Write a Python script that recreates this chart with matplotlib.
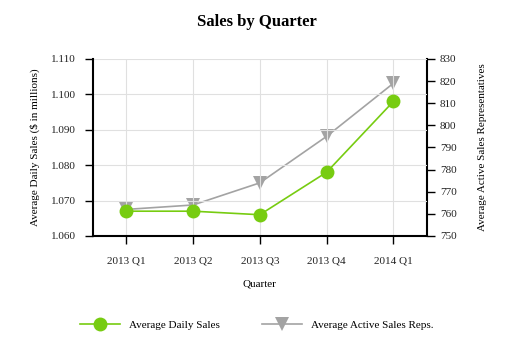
import matplotlib.pyplot as plt
from matplotlib.ticker import FormatStrFormatter

quarters = ["2013 Q1", "2013 Q2", "2013 Q3", "2013 Q4", "2014 Q1"]
daily_sales = [1.067, 1.067, 1.066, 1.078, 1.098]
sales_reps = [762, 764, 774, 795, 819]

plt.rcParams['font.family'] = ['Liberation Serif', 'DejaVu Serif']

fig = plt.figure(figsize=(5.13, 3.57), dpi=100)
ax = fig.add_axes([0.181, 0.339, 0.651, 0.496])
ax2 = ax.twinx()

x = list(range(len(quarters)))
l1, = ax.plot(x, daily_sales, color='#77cc11', lw=1.2, marker='o', ms=10,
              mew=0, label='Average Daily Sales', zorder=3)
l2, = ax2.plot(x, sales_reps, color='#a3a3a3', lw=1.2, marker='v', ms=10,
               mew=0, label='Average Active Sales Reps.', zorder=2)
ax.set_zorder(ax2.get_zorder() + 1)
ax.patch.set_visible(False)

ax.set_xlim(-0.5, 4.5)
ax.set_ylim(1.060, 1.110)
ax.set_yticks([1.060, 1.070, 1.080, 1.090, 1.100, 1.110])
ax.yaxis.set_major_formatter(FormatStrFormatter('%.3f'))
ax2.set_ylim(750, 830)
ax2.set_yticks(range(750, 831, 10))
ax.set_xticks(x)
ax.set_xticklabels(quarters)

ax.grid(True, color='#e0e0e0', lw=0.8)
ax.set_axisbelow(True)
for a in (ax, ax2):
    a.spines['top'].set_visible(False)
    a.tick_params(labelsize=8, direction='out', length=6, width=1,
                  labelcolor='#222222')
ax.tick_params(axis='x', pad=9)
ax.tick_params(axis='y', pad=6)
for s in ('left', 'bottom'):
    ax.spines[s].set_linewidth(1.5)
ax.spines['right'].set_visible(False)
ax2.spines['left'].set_visible(False)
ax2.spines['bottom'].set_visible(False)
ax2.spines['right'].set_linewidth(1.5)

ax.set_xlabel('Quarter', fontsize=8, labelpad=10)
ax.set_ylabel('Average Daily Sales ($ in millions)', fontsize=8, labelpad=8)
ax2.set_ylabel('Average Active Sales Representatives', fontsize=8, labelpad=15)
fig.suptitle('Sales by Quarter', fontsize=12, fontweight='bold', y=0.96)

fig.legend([l1, l2], [l1.get_label(), l2.get_label()], loc='center',
           bbox_to_anchor=(0.5, 0.09), ncol=2, frameon=False, fontsize=8,
           handlelength=3.6, columnspacing=3.8)

fig.savefig('out.png', dpi=100)
